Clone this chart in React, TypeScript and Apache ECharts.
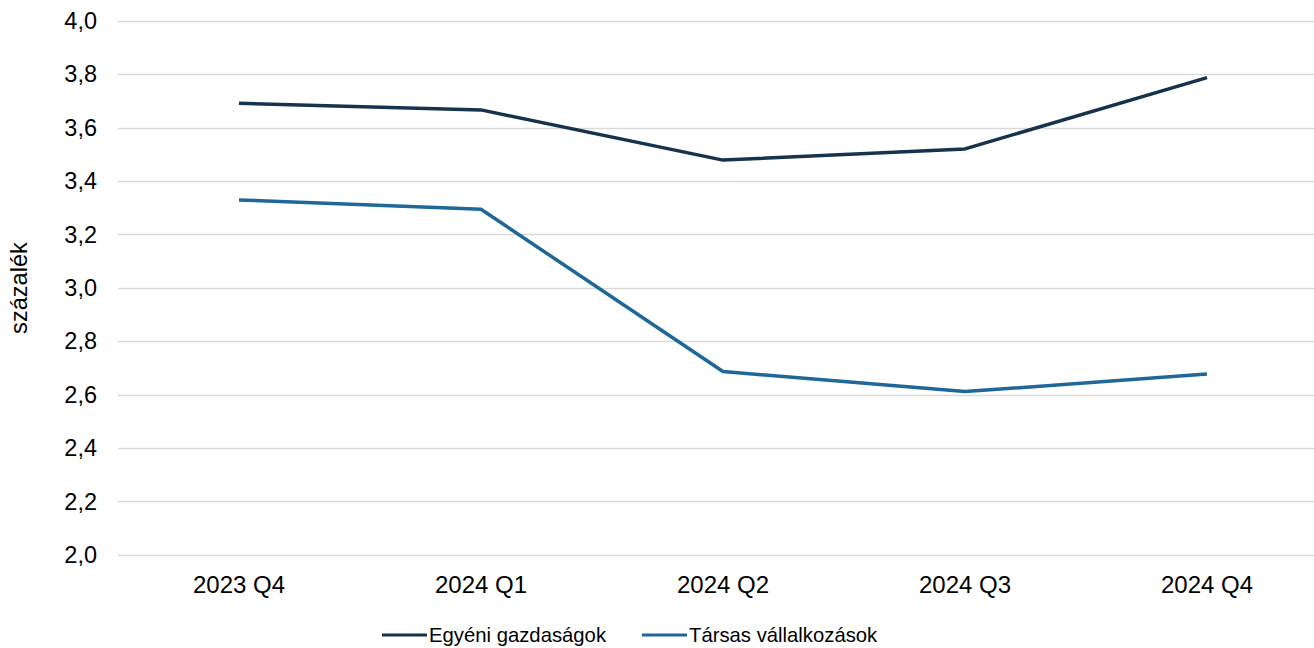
import React, { useEffect, useRef } from "react";
import * as echarts from "echarts";

const categories = ["2023 Q4", "2024 Q1", "2024 Q2", "2024 Q3", "2024 Q4"];
const egyeni = [3.692, 3.667, 3.479, 3.521, 3.788];
const tarsas = [3.33, 3.295, 2.687, 2.612, 2.678];
const seriesNames = ["Egyéni gazdaságok", "Társas vállalkozások"];
const yAxisName = "százalék";

const FONT = "'Liberation Sans', Arial, sans-serif";

export default function App() {
  const ref = useRef<HTMLDivElement>(null);
  useEffect(() => {
    if (!ref.current) return;
    const chart = echarts.init(ref.current, null, { renderer: "svg" });
    chart.setOption({
      animation: false,
      textStyle: { fontFamily: FONT },
      grid: {
        left: 118,
        right: -14,
        top: 21,
        bottom: 93,
        containLabel: false,
        outerBoundsMode: "none",
      },
      legend: {
        top: 625,
        left: 382,
        padding: 0,
        icon: "rect",
        itemWidth: 45,
        itemHeight: 3,
        itemGap: 36,
        textStyle: { fontSize: 20.3, color: "#000", fontFamily: FONT, padding: [0, 0, 0, -3] },
        data: seriesNames,
      },
      xAxis: {
        type: "category",
        data: categories,
        boundaryGap: true,
        axisLine: { show: false },
        axisTick: { show: false },
        axisLabel: { fontSize: 24, color: "#000", margin: 17, fontFamily: FONT },
      },
      yAxis: {
        type: "value",
        min: 2,
        max: 4,
        interval: 0.2,
        name: yAxisName,
        nameLocation: "middle",
        nameGap: 87,
        nameRotate: 90,
        nameTextStyle: { fontSize: 23.6, color: "#000", fontFamily: FONT },
        axisLine: { show: false },
        axisTick: { show: false },
        splitLine: { lineStyle: { color: "#d9d9d9", width: 1.3 } },
        axisLabel: {
          fontSize: 23.5,
          color: "#000",
          margin: 21,
          fontFamily: FONT,
          formatter: (v: number) => v.toFixed(1).replace(".", ","),
        },
      },
      series: [
        {
          name: seriesNames[0],
          type: "line",
          data: egyeni,
          symbol: "none",
          lineStyle: { color: "#17324d", width: 3.5 },
          itemStyle: { color: "#17324d" },
        },
        {
          name: seriesNames[1],
          type: "line",
          data: tarsas,
          symbol: "none",
          lineStyle: { color: "#1f6699", width: 3.5 },
          itemStyle: { color: "#1f6699" },
        },
      ],
    });
    return () => chart.dispose();
  }, []);
  return (
    <div
      ref={ref}
      style={{ position: "absolute", left: 0, top: 0, width: 1314, height: 648, background: "#fff" }}
    />
  );
}
